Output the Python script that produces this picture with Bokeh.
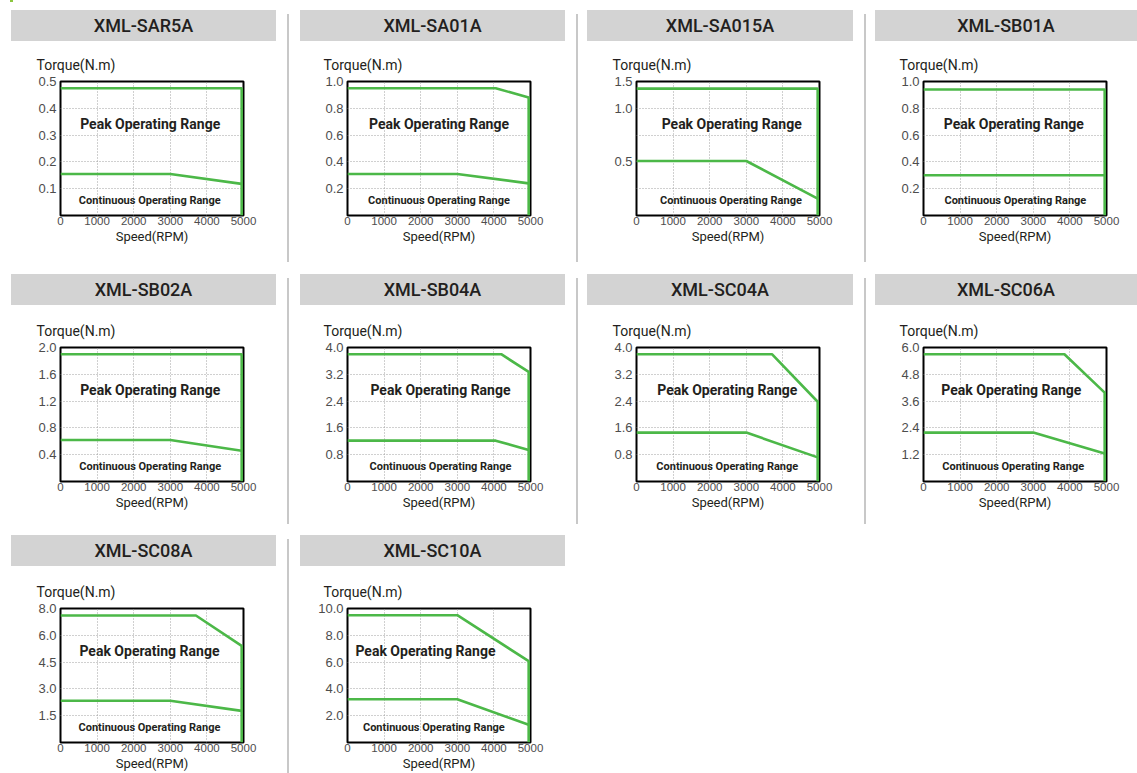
from bokeh.plotting import figure
from bokeh.layouts import row, column
from bokeh.models import Div, FixedTicker, Label, Range1d
from bokeh.embed import file_html
from bokeh.resources import INLINE

# ---------------- data ----------------
models = ["XML-SAR5A", "XML-SA01A", "XML-SA015A", "XML-SB01A",
          "XML-SB02A", "XML-SB04A", "XML-SC04A", "XML-SC06A",
          "XML-SC08A", "XML-SC10A"]
torque_max = [0.5, 1.0, 1.5, 1.0, 2.0, 4.0, 4.0, 6.0, 8.0, 10.0]
torque_tick_labels = [
    ["0.1", "0.2", "0.3", "0.4", "0.5"],
    ["0.2", "0.4", "0.6", "0.8", "1.0"],
    ["", "0.5", "", "1.0", "1.5"],
    ["0.2", "0.4", "0.6", "0.8", "1.0"],
    ["0.4", "0.8", "1.2", "1.6", "2.0"],
    ["0.8", "1.6", "2.4", "3.2", "4.0"],
    ["0.8", "1.6", "2.4", "3.2", "4.0"],
    ["1.2", "2.4", "3.6", "4.8", "6.0"],
    ["1.5", "3.0", "4.5", "6.0", "8.0"],
    ["2.0", "4.0", "6.0", "8.0", "10.0"],
]
speed_ticks = [0, 1000, 2000, 3000, 4000, 5000]

peak_speed = [
    [0, 4950, 4950],
    [0, 4050, 4950, 4950],
    [0, 4950, 4950],
    [0, 4950, 4950],
    [0, 4950, 4950],
    [0, 4200, 4950, 4950],
    [0, 3700, 4950, 4950],
    [0, 3850, 4950, 4950],
    [0, 3700, 4950, 4950],
    [0, 3000, 4950, 4950],
]
peak_torque = [
    [0.475, 0.475, 0],
    [0.95, 0.95, 0.88, 0],
    [1.42, 1.42, 0],
    [0.94, 0.94, 0],
    [1.90, 1.90, 0],
    [3.80, 3.80, 3.27, 0],
    [3.80, 3.80, 2.38, 0],
    [5.70, 5.70, 3.98, 0],
    [7.58, 7.58, 5.77, 0],
    [9.50, 9.50, 6.07, 0],
]
cont_speed = [
    [0, 3000, 4950],
    [0, 3000, 4950],
    [0, 3000, 4950],
    [0, 4950],
    [0, 3000, 4950],
    [0, 4050, 4950],
    [0, 3000, 4950],
    [0, 3000, 4950],
    [0, 3000, 4950],
    [0, 3000, 4950],
]
cont_torque = [
    [0.155, 0.155, 0.118],
    [0.31, 0.31, 0.24],
    [0.61, 0.61, 0.19],
    [0.30, 0.30],
    [0.62, 0.62, 0.46],
    [1.22, 1.22, 0.94],
    [1.46, 1.46, 0.72],
    [2.19, 2.19, 1.25],
    [2.49, 2.49, 1.89],
    [3.23, 3.23, 1.32],
]

# ---------------- layout / style ----------------
GREEN = "#4cb848"
DARK = "#231f20"
HEADER_BG = "#d3d3d3"
DIVIDER = "#c8c8c8"

COL_W = [287, 287, 286, 271]
HDR_ML = [11, 11, 9, 9]
HDR_W = [265, 265, 266, 262]
MBL = [60, 58, 58, 57]
MBR = [44, 46, 45, 31]

ROW_TOP = [8, 0, 0]
FIG_H = [233, 230, 207]
MBT = [40, 42, 42]
MBB = [59, 54, 31]
DIV_H = [248, 246, 234]
N_IN_ROW = [4, 4, 2]

peak_label_x = [2450, 2500, 2600, 2470, 2450, 2540, 2480, 2400, 2430, 2130]
cont_label_x = [2440, 2500, 2580, 2510, 2450, 2540, 2480, 2450, 2430, 2360]


def make_panel(i, col, rw):
    ymax = torque_max[i]
    ticks = [ymax * k / 5 for k in range(1, 6)]
    p = figure(width=COL_W[col], height=FIG_H[rw],
               x_range=Range1d(0, 5000), y_range=Range1d(0, ymax),
               output_backend="svg", toolbar_location=None,
               min_border_left=MBL[col], min_border_right=MBR[col],
               min_border_top=MBT[rw], min_border_bottom=MBB[rw],
               title="Torque(N.m)")
    p.background_fill_color = "white"
    p.border_fill_color = "white"
    p.outline_line_color = "black"
    p.outline_line_width = 2

    p.title.align = "left"
    p.title.offset = -24
    p.title.standoff = 18
    p.title.text_font = "Roboto"
    p.title.text_font_size = "14px"
    p.title.text_font_style = "normal"
    p.title.text_color = DARK

    # axes
    p.xaxis.ticker = FixedTicker(ticks=speed_ticks)
    p.yaxis.ticker = FixedTicker(ticks=ticks)
    p.yaxis.major_label_overrides = {t: lab for t, lab in zip(ticks, torque_tick_labels[i])}
    for ax in (p.xaxis[0], p.yaxis[0]):
        ax.axis_line_color = None
        ax.major_tick_line_color = None
        ax.minor_tick_line_color = None
        ax.major_tick_out = 0
        ax.major_tick_in = 0
        ax.major_label_text_color = "#4d4d4d"
    p.yaxis.major_label_text_font = "Liberation Sans"
    p.yaxis.major_label_text_font_size = "13px"
    p.yaxis.major_label_standoff = 4
    p.xaxis.major_label_text_font = "Liberation Sans"
    p.xaxis.major_label_text_font_size = "11.5px"
    p.xaxis.major_label_standoff = 1
    p.xaxis.axis_label = "Speed(RPM)"
    p.xaxis.axis_label_standoff = 1
    p.xaxis.axis_label_text_font = "Roboto"
    p.xaxis.axis_label_text_font_size = "13px"
    p.xaxis.axis_label_text_font_style = "normal"
    p.xaxis.axis_label_text_color = DARK

    # grids
    p.xgrid.ticker = FixedTicker(ticks=speed_ticks[1:-1])
    p.ygrid.ticker = FixedTicker(ticks=ticks[:-1])
    for g in (p.xgrid[0], p.ygrid[0]):
        g.grid_line_color = "#a0a0a0"
        g.grid_line_dash = "1 2"
        g.grid_line_width = 1

    # curves
    p.line(peak_speed[i], peak_torque[i], line_color=GREEN, line_width=2.6)
    p.line(cont_speed[i], cont_torque[i], line_color=GREEN, line_width=2.6)

    p.add_layout(Label(x=peak_label_x[i], y=ymax * 0.685, text="Peak Operating Range",
                       text_align="center", text_baseline="middle",
                       text_font="Roboto", text_font_style="bold",
                       text_font_size="14px", text_color=DARK))
    p.add_layout(Label(x=cont_label_x[i], y=ymax * 0.11, text="Continuous Operating Range",
                       text_align="center", text_baseline="middle",
                       text_font="Roboto", text_font_style="bold",
                       text_font_size="11px", text_color=DARK))

    header = Div(text=models[i], width=HDR_W[col], height=31,
                 margin=(0, 0, 0, HDR_ML[col]),
                 styles={"background-color": HEADER_BG, "font-family": "Roboto",
                         "font-size": "18px", "font-weight": "500", "color": DARK,
                         "text-align": "center", "line-height": "31px"})
    return column(header, p, spacing=0)


def divider(rw):
    return Div(text="", width=2, height=DIV_H[rw], margin=(4, 0, 0, 0),
               styles={"background-color": DIVIDER})


corner_mark = Div(text="", width=3, height=2, margin=(0, 0, 0, 10),
                  styles={"background-color": "#8cc63f"})

rows = []
idx = 0
for rw, n in enumerate(N_IN_ROW):
    kids = []
    for col in range(n):
        kids.append(make_panel(idx, col, rw))
        idx += 1
        if col < n - 1:
            kids.append(divider(rw))
    rows.append(row(*kids, spacing=0, margin=(ROW_TOP[rw], 0, 0, 0)))

layout = column(corner_mark, *rows, spacing=0)

open("out.html", "w").write(file_html(layout, INLINE))
